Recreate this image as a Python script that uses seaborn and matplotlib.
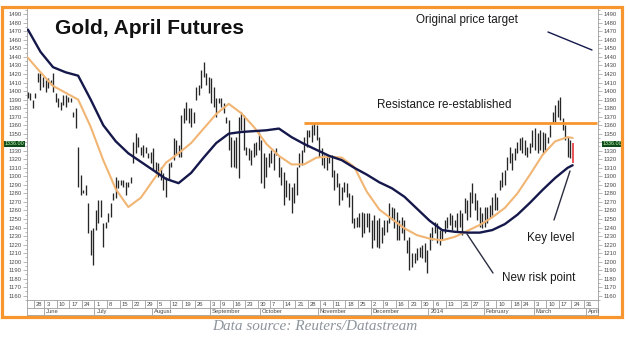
import matplotlib
matplotlib.use("Agg")
import matplotlib.pyplot as plt
from matplotlib.patches import Rectangle
from matplotlib.lines import Line2D
from matplotlib.transforms import blended_transform_factory, offset_copy
import numpy as np
import pandas as pd
import seaborn as sns

sns.set_style("white")
plt.rcParams["font.family"] = ["Liberation Sans", "DejaVu Sans"]

# ---- daily bars, Gold April futures (USD/oz), one per business day ----
first_session = "2013-05-23"
last_axis_day = "2014-04-04"

high = [1399, 1398, 1390, 1398, 1421, 1421, 1417,
        1413, 1415, 1413, 1421, 1398, 1392, 1387, 1395, 1395, 1393,
        1392, 1375, 1380, 1334, 1302, 1284, 1290, 1269, 1237, 1239,
        1261, 1272, 1272, 1245, 1246, 1257, 1269, 1280, 1299, 1296,
        1296, 1296, 1293, 1293, 1299, 1340, 1351, 1346, 1334, 1337,
        1334, 1327, 1329, 1333, 1317, 1316, 1311, 1304, 1299, 1316,
        1317, 1345, 1343, 1337, 1372, 1380, 1387, 1380, 1380, 1375,
        1405, 1407, 1425, 1434, 1421, 1417, 1415, 1405, 1392, 1392,
        1392, 1386, 1370, 1366, 1346, 1343, 1346, 1370, 1375, 1372,
        1334, 1333, 1331, 1339, 1340, 1352, 1343, 1327, 1323, 1327,
        1331, 1327, 1333, 1323, 1311, 1305, 1296, 1292, 1288, 1292,
        1311, 1327, 1331, 1346, 1354, 1354, 1360, 1362, 1360, 1346,
        1333, 1325, 1325, 1325, 1325, 1307, 1304, 1292, 1288, 1293,
        1292, 1280, 1278, 1251, 1252, 1257, 1258, 1257, 1257, 1257,
        1249, 1255, 1249, 1251, 1241, 1249, 1249, 1269, 1264, 1263,
        1258, 1249, 1252, 1249, 1225, 1229, 1210, 1210, 1216, 1217,
        1220, 1222, 1214, 1234, 1241, 1246, 1245, 1237, 1237, 1249,
        1252, 1257, 1255, 1249, 1257, 1261, 1257, 1275, 1272, 1282,
        1292, 1280, 1272, 1264, 1257, 1264, 1264, 1266, 1276, 1280,
        1276, 1296, 1305, 1307, 1323, 1334, 1327, 1333, 1340, 1345,
        1346, 1343, 1334, 1339, 1354, 1357, 1351, 1354, 1352, 1351,
        1346, 1360, 1375, 1384, 1390, 1393, 1368, 1360, 1346, 1343,
        1339]

low = [1392, 1390, 1380, 1392, 1411, 1401, 1405,
       1399, 1404, 1407, 1399, 1387, 1381, 1378, 1384, 1381, 1387,
       1387, 1370, 1357, 1288, 1278, 1280, 1278, 1234, 1208, 1196,
       1237, 1245, 1252, 1217, 1239, 1246, 1252, 1272, 1275, 1286,
       1290, 1288, 1278, 1288, 1292, 1316, 1327, 1334, 1325, 1323,
       1327, 1322, 1316, 1307, 1304, 1299, 1296, 1284, 1276, 1296,
       1311, 1319, 1325, 1323, 1323, 1363, 1366, 1363, 1358, 1363,
       1390, 1395, 1404, 1417, 1407, 1398, 1386, 1381, 1370, 1386,
       1381, 1374, 1363, 1331, 1311, 1311, 1310, 1298, 1354, 1331,
       1325, 1319, 1313, 1323, 1325, 1331, 1292, 1286, 1299, 1311,
       1316, 1307, 1325, 1299, 1290, 1266, 1276, 1272, 1257, 1269,
       1278, 1311, 1313, 1328, 1334, 1346, 1340, 1348, 1343, 1323,
       1313, 1310, 1307, 1316, 1299, 1284, 1288, 1266, 1272, 1282,
       1276, 1264, 1245, 1239, 1241, 1241, 1229, 1234, 1241, 1235,
       1216, 1225, 1217, 1216, 1222, 1231, 1235, 1245, 1249, 1239,
       1225, 1225, 1234, 1225, 1210, 1190, 1194, 1198, 1202, 1205,
       1204, 1200, 1187, 1214, 1225, 1234, 1222, 1220, 1225, 1234,
       1239, 1243, 1237, 1241, 1235, 1241, 1231, 1257, 1249, 1252,
       1269, 1261, 1249, 1241, 1239, 1241, 1245, 1251, 1255, 1261,
       1261, 1284, 1288, 1290, 1307, 1316, 1307, 1319, 1327, 1331,
       1327, 1325, 1323, 1327, 1334, 1331, 1327, 1331, 1327, 1331,
       1339, 1346, 1363, 1364, 1370, 1366, 1354, 1343, 1323, 1321,
       1316]

# ---- moving averages, sampled weekly ----
ma_dates = ["2013-05-23", "2013-05-30", "2013-06-06", "2013-06-13", "2013-06-20",
            "2013-06-27", "2013-07-04", "2013-07-11", "2013-07-18", "2013-07-25",
            "2013-08-01", "2013-08-08", "2013-08-15", "2013-08-22", "2013-08-29",
            "2013-09-05", "2013-09-12", "2013-09-19", "2013-09-26", "2013-10-03",
            "2013-10-10", "2013-10-17", "2013-10-24", "2013-10-31", "2013-11-07",
            "2013-11-14", "2013-11-21", "2013-11-28", "2013-12-05", "2013-12-12",
            "2013-12-19", "2013-12-26", "2014-01-02", "2014-01-09", "2014-01-16",
            "2014-01-23", "2014-01-30", "2014-02-06", "2014-02-13", "2014-02-20",
            "2014-02-27", "2014-03-06", "2014-03-13", "2014-03-20", "2014-03-24"]
fast_ma = [1439, 1422, 1406, 1398, 1390, 1358, 1319, 1285, 1264, 1275,
           1296, 1316, 1327, 1339, 1356, 1373, 1385, 1374, 1358, 1338,
           1324, 1314, 1314, 1322, 1323, 1322, 1311, 1282, 1261, 1250,
           1239, 1231, 1227, 1225, 1229, 1236, 1243, 1252, 1263, 1280,
           1302, 1325, 1341, 1346, 1345]
slow_ma = [1472, 1446, 1428, 1422, 1418, 1390, 1360, 1341, 1327, 1317,
           1307, 1297, 1292, 1304, 1322, 1339, 1350, 1352, 1353, 1354,
           1356, 1346, 1338, 1331, 1324, 1319, 1310, 1302, 1293, 1286,
           1276, 1262, 1248, 1237, 1235, 1234, 1234, 1237, 1244, 1255,
           1269, 1284, 1298, 1310, 1313]

resistance = 1363
resistance_from = "2013-10-24"
last_price = 1336.00

# ---- date axis labels ----
week_labels = ["2013-05-28", "2013-06-03", "2013-06-10", "2013-06-17", "2013-06-24",
               "2013-07-01", "2013-07-08", "2013-07-15", "2013-07-22", "2013-07-29",
               "2013-08-05", "2013-08-12", "2013-08-19", "2013-08-26", "2013-09-03",
               "2013-09-09", "2013-09-16", "2013-09-23", "2013-09-30", "2013-10-07",
               "2013-10-14", "2013-10-21", "2013-10-28", "2013-11-04", "2013-11-11",
               "2013-11-18", "2013-11-25", "2013-12-02", "2013-12-09", "2013-12-16",
               "2013-12-23", "2013-12-30", "2014-01-06", "2014-01-13", "2014-01-21",
               "2014-01-27", "2014-02-03", "2014-02-10", "2014-02-18", "2014-02-24",
               "2014-03-03", "2014-03-10", "2014-03-17", "2014-03-24", "2014-03-31"]
month_starts = ["2013-06-03", "2013-07-01", "2013-08-01", "2013-09-03", "2013-10-01",
                "2013-11-01", "2013-12-02", "2014-01-02", "2014-02-03", "2014-03-03",
                "2014-04-01"]
month_names = ["June", "July", "August", "September", "October", "November",
               "December", "2014", "February", "March", "April"]
price_ticks = list(range(1160, 1500, 10))

# ---- helpers ----
sessions = pd.bdate_range(first_session, last_axis_day)
session_pos = pd.Series(np.arange(len(sessions)), index=sessions)


def at(day):
    return int(session_pos[pd.Timestamp(day)])


W, H = 630, 338
fig = plt.figure(figsize=(W / 100, H / 100), dpi=100)
fig.patch.set_facecolor("white")


def box(l, t, r, b):
    return [l / W, 1 - b / H, (r - l) / W, (b - t) / H]


def fxy(x, y):
    return x / W, 1 - y / H


XLIM = (-0.37, 227.1)
YLIM = (1155.0, 1496.2)
AXIS_GREY = "#9c9c9c"
TICK_TXT = "#4a4a4a"
ORANGE = "#f7962e"

# ---- price panel ----
ax = fig.add_axes(box(27, 9, 598, 300))
ax.set_xlim(*XLIM)
ax.set_ylim(*YLIM)

bars = pd.DataFrame({"x": np.arange(len(high)), "high": high, "low": low})
body = bars.iloc[:-1]
ax.vlines(body["x"], body["low"], body["high"], color="#262626", lw=0.95, zorder=3)
last = bars.iloc[-1]
ax.vlines(last["x"], last["low"], last["high"], color="#e3262b", lw=1.1, zorder=3)

ma = pd.DataFrame({"x": [at(d) for d in ma_dates], "fast": fast_ma, "slow": slow_ma})
sns.lineplot(data=ma, x="x", y="fast", ax=ax, color="#f1b574", lw=1.5, zorder=4)
sns.lineplot(data=ma, x="x", y="slow", ax=ax, color="#15184a", lw=1.7, zorder=5)

ax.hlines(resistance, at(resistance_from), XLIM[1] - 0.3, color=ORANGE, lw=2.0, zorder=6)

ax.set_xlabel("")
ax.set_ylabel("")
ax.set_xticks([])
ax.set_yticks(price_ticks)
ax.set_yticks(np.arange(1155, 1496, 5), minor=True)
# the level under the current-price flag is covered by the flag itself
ax.set_yticklabels(["" if abs(v - last_price) < 5 else str(v) for v in price_ticks])
ax.tick_params(axis="y", which="both", left=True, right=True, labelleft=True,
               labelright=True, direction="out", color=AXIS_GREY, width=0.5,
               labelsize=4.2, labelcolor=TICK_TXT, pad=1)
ax.tick_params(axis="y", which="major", length=3)
ax.tick_params(axis="y", which="minor", length=1.5)
for side in ("left", "right", "bottom"):
    ax.spines[side].set_color(AXIS_GREY)
    ax.spines[side].set_linewidth(0.6)
ax.spines["top"].set_visible(False)

# current-price flags on both scales
flag = dict(boxstyle="square,pad=0.12", fc="#0d4a17", ec="none")
tr = offset_copy(blended_transform_factory(ax.transAxes, ax.transData),
                 fig=fig, y=1.2, units="points")
ax.text(-0.004, last_price, f"{last_price:.2f}", transform=tr, ha="right", va="center",
        fontsize=3.9, color="#c9f7c0", bbox=flag, clip_on=False, zorder=8)
ax.text(1.008, last_price, f"{last_price:.2f}", transform=tr, ha="left", va="center",
        fontsize=3.9, color="#c9f7c0", bbox=flag, clip_on=False, zorder=8)

# ---- date strip: week starts on top row, months below ----
dax = fig.add_axes(box(27, 300, 598, 315))
dax.set_xlim(*XLIM)
dax.set_ylim(0, 2)
dax.set_xticks([])
dax.set_yticks([])
for s in dax.spines.values():
    s.set_color(AXIS_GREY)
    s.set_linewidth(0.6)
dax.axhline(1, color=AXIS_GREY, lw=0.6)
for d in week_labels:
    k = at(d)
    dax.vlines(k - 0.5, 1, 2, color=AXIS_GREY, lw=0.6)
    dax.text(k + 0.3, 1.45, str(pd.Timestamp(d).day), fontsize=4.2, color=TICK_TXT,
             ha="left", va="center")
for d, name in zip(month_starts, month_names):
    k = at(d)
    dax.vlines(k - 0.5, 0, 1, color=AXIS_GREY, lw=0.6)
    dax.text(k + 0.3, 0.45, name, fontsize=4.2, color=TICK_TXT, ha="left", va="center")

# ---- titles and notes ----
fig.text(*fxy(55, 34.3), "Gold, April Futures", fontsize=15, fontweight="bold",
         color="#111111", ha="left", va="baseline")
note = dict(fontsize=8.4, color="#1a1a1a", ha="left", va="baseline")
fig.text(*fxy(416, 23.5), "Original price target", **note)
fig.text(*fxy(377, 108.5), "Resistance re-established", **note)
fig.text(*fxy(527, 241.0), "Key level", **note)
fig.text(*fxy(502, 281.5), "New risk point", **note)

for (x1, y1), (x2, y2), col in [((548, 32), (592, 50), "#15184a"),
                                ((554, 220), (570, 171), "#2a2d3e"),
                                ((493, 273), (467, 234), "#2a2d3e")]:
    (a1, b1), (a2, b2) = fxy(x1, y1), fxy(x2, y2)
    fig.add_artist(Line2D([a1, a2], [b1, b2], color=col, lw=1.0, transform=fig.transFigure))

fig.text(*fxy(315, 327), "Data source: Reuters/Datastream", fontsize=11,
         family=["Liberation Serif", "DejaVu Serif"], style="italic", color="#8e949c",
         ha="center", va="center")

# frame around the chart
fig.add_artist(Rectangle(fxy(2, 316.5), 620 / W, 310 / H, fill=False, ec=ORANGE,
                         lw=2.3, transform=fig.transFigure, zorder=10))

fig.savefig("out.png", dpi=100, facecolor="white")
